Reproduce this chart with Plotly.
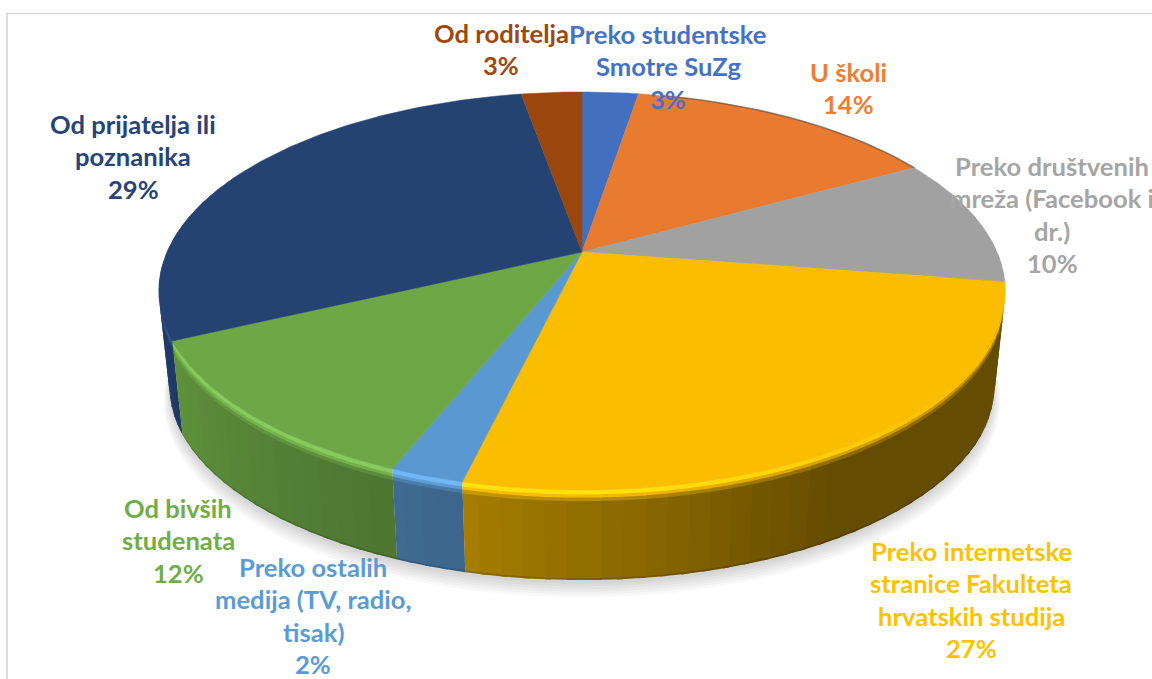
import numpy as np
import plotly.graph_objects as go

categories = ["Preko studentske<br>Smotre SuZg", "U školi", "Preko društvenih<br>mreža (Facebook i<br>dr.)",
              "Preko internetske<br>stranice Fakulteta<br>hrvatskih studija", "Preko ostalih<br>medija (TV, radio,<br>tisak)",
              "Od bivših<br>studenata", "Od prijatelja ili<br>poznanika", "Od roditelja"]
slice_shares = [2.6, 14.4, 10.4, 26.35, 2.35, 11.9, 29.2, 2.8]
percent_labels = ["3%", "14%", "10%", "27%", "2%", "12%", "29%", "3%"]
top_colors = ["#4270BF", "#E97B30", "#A1A1A1", "#FBBD00", "#5A98D2", "#6EA846", "#244373", "#9A460C"]
text_colors = ["#4472C4", "#ED7D31", "#A5A5A5", "#FFC000", "#5B9BD5", "#70AD47", "#264478", "#9E480E"]
label_first_line = [(668, 34), (848, 72), (1052, 166), (971, 551), (313, 567), (178, 508), (133, 124), (501, 33)]

CX, CY, A, B, K = 582.0, 252.0, 191.4, 415.0, 0.196
BOTTOM_Y, BOTTOM_S = 348.0, 0.975
FRAME = "#DADADA"
LINE_STEP = 32.4


def project(theta_deg, t=0.0, extra_scale=1.0, extra_dy=0.0):
    th = np.radians(theta_deg)
    u, v = np.sin(th), np.cos(th)
    d = 1 + K * v
    s = (1 - t) + t * BOTTOM_S
    y0 = (1 - t) * CY + t * BOTTOM_Y
    return CX + s * extra_scale * B * u / d, y0 + extra_dy - s * extra_scale * A * v / d


def rgb(h):
    return np.array([int(h[i:i + 2], 16) for i in (1, 3, 5)], float)


def css(c):
    c = np.clip(c, 0, 255).round().astype(int)
    return f"rgb({c[0]},{c[1]},{c[2]})"


def shade(theta):
    return np.interp(theta, [90, 150, 194, 245, 290], [0.40, 0.40, 0.67, 0.87, 0.92])


fig = go.Figure()

# soft shadow under the pie
circle = np.linspace(0, 360, 181)
for es, dy in [(1.014, 14), (1.011, 12), (1.008, 10), (1.005, 8), (1.002, 6), (0.999, 4)]:
    x, y = project(circle, 1.0, es, dy)
    fig.add_trace(go.Scatter(x=x, y=y, mode="lines", fill="toself", fillcolor="rgba(0,0,0,0.026)",
                             line=dict(width=0), hoverinfo="skip", showlegend=False))

edges = np.concatenate([[0], np.cumsum(slice_shares)]) * 3.6
bands = [(0, .05), (.05, .085), (.085, .125), (.125, .98), (.98, 1.0)]
quads = []
for i, col in enumerate(top_colors):
    a0, a1 = max(edges[i], 70), min(edges[i + 1], 295)
    if a1 <= a0:
        continue
    n = max(1, int(np.ceil((a1 - a0) / 2.5)))
    grid = np.linspace(a0, a1, n + 1)
    for j, (g0, g1) in enumerate(zip(grid[:-1], grid[1:])):
        mid = (g0 + g1) / 2
        # overlap the neighbours drawn earlier (further back) inside the slice, so no seams appear
        lo, hi = g0, g1
        if j > 0 and (mid < 180 or g0 <= 180 + 2.5):
            lo = g0 - 0.7
        if j < n - 1 and (mid >= 180 or g1 >= 180 - 2.5):
            hi = g1 + 0.7
        quads.append((np.cos(np.radians(mid)), lo, hi, mid, i))
quads.sort(key=lambda q: -q[0])

for _, g0, g1, mid, i in quads:
    top = rgb(top_colors[i])
    side = top * shade(mid)
    h = np.interp(mid, [130, 175], [0, 1])
    rim = top * (1 + 0.13 * h) + 12 * h
    fills = [rim, rim * .65 + side * .35, rim * .25 + side * .75, side, side * .85]
    for (t0, t1), c in zip(bands, fills):
        ang = np.linspace(g0, g1, 3)
        x0, y0 = project(ang, t0)
        x1, y1 = project(ang[::-1], min(t1 + 0.012, 1.0))
        fig.add_trace(go.Scatter(x=np.r_[x0, x1, x0[0]], y=np.r_[y0, y1, y0[0]], mode="lines", fill="toself",
                                 fillcolor=css(c), line=dict(width=0),
                                 hoverinfo="skip", showlegend=False))

# top face
for i, col in enumerate(top_colors):
    ang = np.linspace(edges[i], edges[i + 1], max(3, int(edges[i + 1] - edges[i]) + 2))
    x, y = project(ang)
    fig.add_trace(go.Scatter(x=np.r_[CX, x, CX], y=np.r_[CY, y, CY], mode="lines", fill="toself", fillcolor=col,
                             line=dict(color=col, width=0.5), name=categories[i].replace("<br>", " "),
                             text=percent_labels[i], hoverinfo="name+text", showlegend=False))

# darkened bevel on the upper right edge
ang = np.linspace(edges[1] + 4, edges[2], 30)
x, y = project(ang)
fig.add_trace(go.Scatter(x=x, y=y, mode="lines", line=dict(color="rgba(70,70,70,0.55)", width=1.6),
                         hoverinfo="skip", showlegend=False))

# labels, one annotation per text line
for cat, pct, col, (lx, ly) in zip(categories, percent_labels, text_colors, label_first_line):
    for k, line in enumerate(cat.split("<br>") + [pct]):
        fig.add_annotation(x=lx, y=ly + k * LINE_STEP, text=f"<b>{line}</b>", showarrow=False, xanchor="center",
                           yanchor="middle", align="center", font=dict(family="Lato", size=25.6, color=col))

# chart frame
fig.add_shape(type="line", x0=7, x1=7, y0=13, y1=679, line=dict(color=FRAME, width=2), layer="below")
fig.add_shape(type="line", x0=6, x1=1152, y0=13.5, y1=13.5, line=dict(color=FRAME, width=1.5), layer="below")

fig.update_xaxes(range=[0, 1152], visible=False, fixedrange=True)
fig.update_yaxes(range=[679, 0], visible=False, fixedrange=True)
fig.update_layout(width=1152, height=679, margin=dict(l=0, r=0, t=0, b=0), paper_bgcolor="white",
                  plot_bgcolor="white", showlegend=False)
fig.write_html("out.html", post_script="document.body.style.margin='0';document.body.style.overflow='hidden';",
               config={"displayModeBar": False})
